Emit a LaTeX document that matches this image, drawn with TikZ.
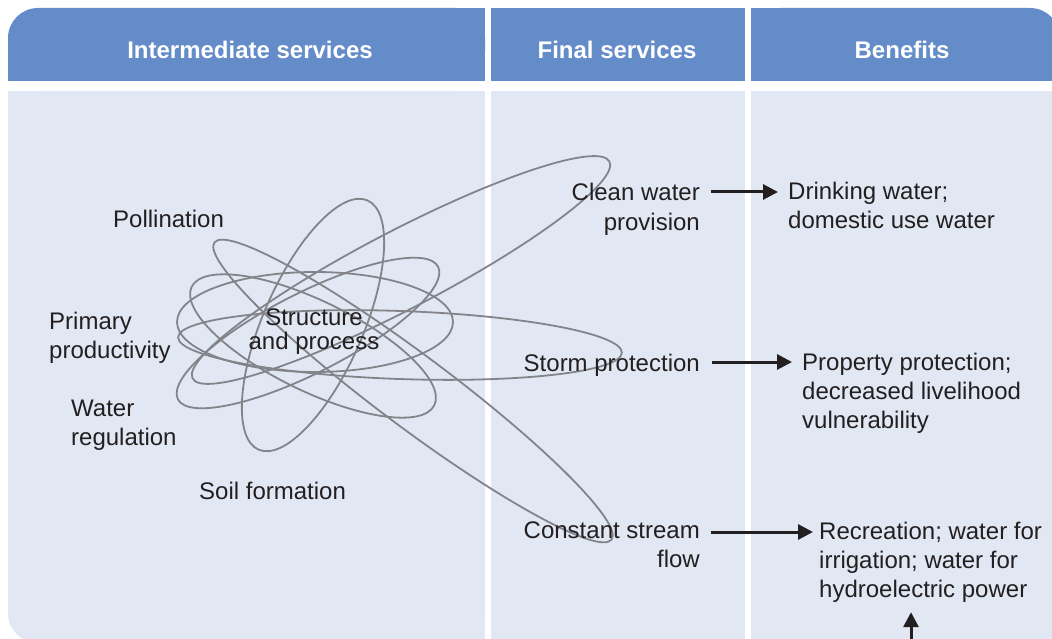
\documentclass[tikz,border=0pt]{standalone}
\usepackage{fontspec}
\setmainfont{Liberation Sans}
\usetikzlibrary{arrows.meta,calc}
\definecolor{hdr}{RGB}{100,140,200}
\definecolor{bodyc}{RGB}{225,231,243}
\definecolor{ink}{RGB}{35,31,32}
\definecolor{loopc}{RGB}{130,132,138}
\begin{document}
\begin{tikzpicture}[x=1pt,y=-1pt,
  lbl/.style={font=\fontsize{24}{29}\selectfont, text=ink, inner sep=0pt},
  hlbl/.style={font=\fontsize{24}{29}\selectfont\bfseries, text=white, inner sep=0pt, anchor=base},
  loopline/.style={draw=loopc, line width=1.8pt},
  arr/.style={draw=ink, line width=3pt, -{Triangle[length=15pt,width=15pt]}}]
\useasboundingbox (0,0) rectangle (1052,639);
\clip (0,0) rectangle (1052,639);
\fill[white] (0,0) rectangle (1052,639);
% headers
\fill[hdr, rounded corners=30pt] (8,8) rectangle (485,81);
\fill[hdr] (38,8) rectangle (485,81);
\fill[hdr] (8,38) rectangle (485,81);
\fill[hdr] (491,8) rectangle (745,81);
\fill[hdr, rounded corners=30pt] (751,8) rectangle (1060,81);
\fill[hdr] (751,8) rectangle (1030,81);
\fill[hdr] (751,38) rectangle (1060,81);
% bodies
\fill[bodyc, rounded corners=30pt] (8,91) rectangle (485,643);
\fill[bodyc] (8,91) rectangle (485,613);
\fill[bodyc] (38,91) rectangle (485,643);
\fill[bodyc] (491,91) rectangle (745,645);
\fill[bodyc] (751,91) rectangle (1060,645);
% header labels
\node[hlbl] (h1) at (250,59) {Intermediate services};
\node[hlbl] (h2) at (617,59) {Final services};
\node[hlbl] (h3) at (902,59) {Benefits};
% loops
\draw[loopline, shift={(401,270)}, rotate=27.5] (0,0) ellipse [x radius=235, y radius=39];
\draw[loopline, shift={(400,345)}, rotate=-2] (0,0) ellipse [x radius=222, y radius=34];
\draw[loopline, shift={(413,391)}, rotate=-36.8] (0,0) ellipse [x radius=248, y radius=36];
\draw[loopline, shift={(315,322)}, rotate=0] (0,0) ellipse [x radius=138, y radius=50];
\draw[loopline, shift={(313,325)}, rotate=66.4] (0,0) ellipse [x radius=136, y radius=50];
\draw[loopline, shift={(313,346)}, rotate=-26] (0,0) ellipse [x radius=135, y radius=45];
\draw[loopline, shift={(308,333)}, rotate=27] (0,0) ellipse [x radius=146, y radius=40];
% intermediate labels
\node[lbl, anchor=base west] (poll) at (113,228) {Pollination};
\node[lbl, anchor=base west, align=left] (prim) at (49,358) {Primary\\productivity};
\node[lbl, anchor=base west, align=left] (water) at (71,445) {Water\\regulation};
\node[lbl, anchor=base west] (soil) at (199,499) {Soil formation};
\node[lbl, anchor=base, align=center, font=\fontsize{24}{24}\selectfont] (struct) at (314,349) {Structure\\and process};
% final services
\node[lbl, anchor=base east, align=right] (clean) at (700,230) {Clean water\\provision};
\node[lbl, anchor=base east] (storm) at (700,371) {Storm protection};
\node[lbl, anchor=base east, align=right] (stream) at (700,567) {Constant stream\\flow};
% benefits
\node[lbl, anchor=base west, align=left] (drink) at (788,229) {Drinking water;\\domestic use water};
\node[lbl, anchor=base west, align=left] (prop) at (802,428) {Property protection;\\decreased livelihood\\vulnerability};
\node[lbl, anchor=base west, align=left] (rec) at (819,597) {Recreation; water for\\irrigation; water for\\hydroelectric power};
% arrows
\draw[arr] ($(clean.base east)+(11,-38)$) -- ($(drink.base west)+(-10,-37)$);
\draw[arr] ($(storm.base east)+(12,-9)$) -- ($(prop.base west)+(-10,-66)$);
\draw[arr] ($(stream.base east)+(11,-35)$) -- ($(rec.base west)+(-6,-65)$);
\coordinate (bot) at (911,660);
\draw[arr, shorten >=10pt] (bot) -- (bot |- rec.south);
\end{tikzpicture}
\end{document}
